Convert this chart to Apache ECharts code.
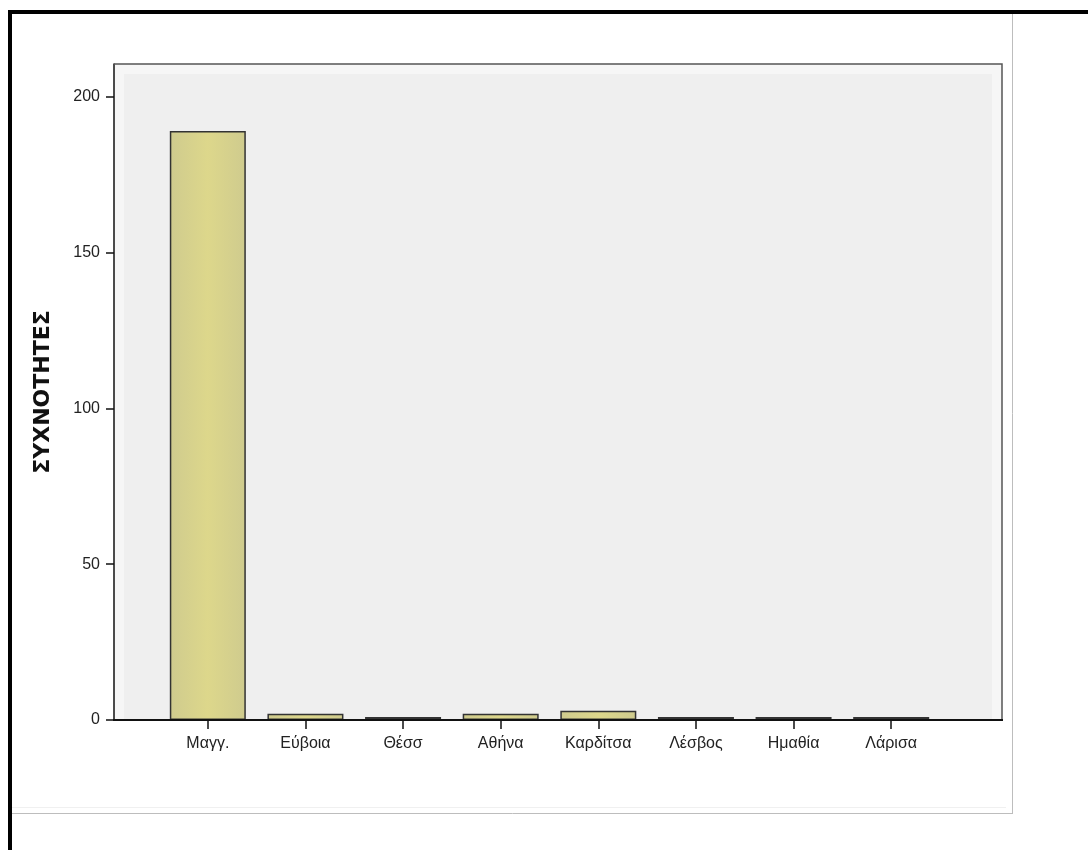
<!DOCTYPE html>
<html>
<head>
<meta charset="utf-8">
<script src="https://cdn.jsdelivr.net/npm/echarts@6/dist/echarts.min.js"></script>
<style>
html,body{margin:0;padding:0;background:#fff;}
#chart{width:1088px;height:850px;}
</style>
</head>
<body>
<div id="chart"></div>
<script>
const categories = ['Μαγγ.', 'Εύβοια', 'Θέσσ', 'Αθήνα', 'Καρδίτσα', 'Λέσβος', 'Ημαθία', 'Λάρισα'];
const counts = [189, 2, 1, 2, 3, 1, 1, 1];
const yTicks = [0, 50, 100, 150, 200];
const yTitle = 'ΣΥΧΝΟΤΗΤΕΣ';

const chart = echarts.init(document.getElementById('chart'), null, {renderer: 'canvas'});

const barFill = new echarts.graphic.LinearGradient(0, 0, 1, 0, [
  {offset: 0, color: '#cfcb8e'},
  {offset: 0.5, color: '#ddd78b'},
  {offset: 1, color: '#cfcb8e'}
]);

const option = {
  backgroundColor: '#ffffff',
  animation: false,
  grid: {left: 159, right: 148, top: 64, bottom: 130, containLabel: false},
  xAxis: {
    type: 'category',
    data: categories,
    boundaryGap: true,
    axisLine: {show: false},
    axisTick: {show: true, alignWithLabel: true, length: 9, lineStyle: {color: '#111', width: 1.5}},
    axisLabel: {fontFamily: 'Liberation Sans, Arial, sans-serif', fontSize: 16, color: '#222', margin: 16}
  },
  yAxis: {
    type: 'value',
    min: 0,
    max: 210.5,
    offset: 45,
    name: yTitle,
    nameLocation: 'middle',
    nameGap: 60,
    nameTextStyle: {fontFamily: 'DejaVu Sans, sans-serif', fontWeight: 'bold', fontSize: 22, color: '#111'},
    axisLine: {show: true, lineStyle: {color: '#111', width: 1.5}},
    axisTick: {show: true, length: 8, customValues: yTicks, lineStyle: {color: '#111', width: 1.5}},
    axisLabel: {customValues: yTicks, fontFamily: 'Liberation Sans, Arial, sans-serif', fontSize: 16, color: '#222', margin: 14},
    splitLine: {show: false}
  },
  graphic: [
    {type: 'rect', z: -20, silent: true, shape: {x: 12, y: 14, width: 1001, height: 799}, style: {fill: '#ffffff', stroke: null}},
    {type: 'line', z: 5, silent: true, shape: {x1: 1012.5, y1: 14, x2: 1012.5, y2: 813}, style: {stroke: '#bdbdbd', lineWidth: 1}},
    {type: 'line', z: 5, silent: true, shape: {x1: 12, y1: 813.5, x2: 1013, y2: 813.5}, style: {stroke: '#bdbdbd', lineWidth: 1}},
    {type: 'line', z: 5, silent: true, shape: {x1: 12, y1: 807.5, x2: 1006, y2: 807.5}, style: {stroke: '#f0f0f0', lineWidth: 1}},
    {type: 'rect', z: -10, silent: true, shape: {x: 114, y: 64, width: 888, height: 656}, style: {fill: '#f6f6f6'}},
    {type: 'rect', z: -9, silent: true, shape: {x: 124, y: 74, width: 868, height: 646}, style: {fill: '#efefef'}},
    {type: 'polyline', z: 10, silent: true, shape: {points: [[114, 64], [1002, 64], [1002, 720]]}, style: {stroke: '#555', lineWidth: 1.5, fill: null}},
    {type: 'line', z: 10, silent: true, shape: {x1: 113, y1: 720, x2: 1003, y2: 720}, style: {stroke: '#111', lineWidth: 2}},
    {type: 'rect', z: 20, silent: true, shape: {x: 8, y: 10, width: 1080, height: 4}, style: {fill: '#000'}},
    {type: 'rect', z: 20, silent: true, shape: {x: 8, y: 10, width: 4, height: 840}, style: {fill: '#000'}}
  ],
  series: [{
    type: 'bar',
    data: counts,
    barWidth: 76,
    itemStyle: {color: barFill, borderColor: '#333', borderWidth: 1.5},
    z: 3
  }]
};
chart.setOption(option);
</script>
</body>
</html>
